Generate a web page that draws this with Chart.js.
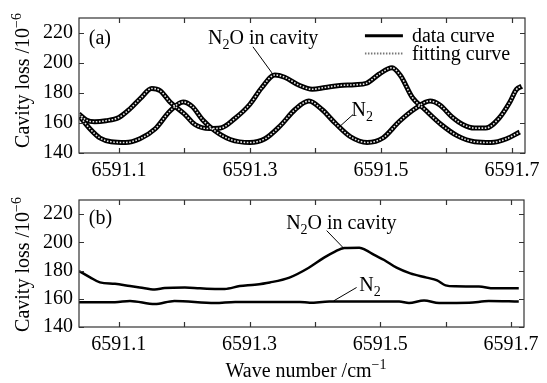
<!DOCTYPE html>
<html>
<head>
<meta charset="utf-8">
<script src="https://cdn.jsdelivr.net/npm/chart.js@4/dist/chart.umd.min.js"></script>
<style>
  body { margin: 0; background: #fff; }
  #wrap { position: relative; width: 547px; height: 383px; }
  canvas { position: absolute; left: 0; }
  #probe { position: absolute; left: -9999px; top: 0; font: 20px "Liberation Serif"; }
</style>
</head>
<body>
<div id="probe">Cavity loss 6591.1 N2O</div>
<div id="wrap">
  <canvas id="panelA" width="547" height="182" style="top:0"></canvas>
  <canvas id="panelB" width="547" height="201" style="top:182px"></canvas>
</div>
<script>
// Ticks
const X_TICKS = [6591.1, 6591.2, 6591.3, 6591.4, 6591.5, 6591.6, 6591.7];
const X_LABELS = ['6591.1', '6591.3', '6591.5', '6591.7'];
const Y_TICKS = [140, 160, 180, 200, 220];

// (a) spectra with mirror scan – N2O in cavity
const A_N2O_X = [6591.039, 6591.05, 6591.063, 6591.08, 6591.1, 6591.117, 6591.133, 6591.15, 6591.163, 6591.178,
  6591.2, 6591.216, 6591.238, 6591.255, 6591.277, 6591.3, 6591.318, 6591.338, 6591.353, 6591.376,
  6591.395, 6591.415, 6591.437, 6591.46, 6591.478, 6591.497, 6591.517, 6591.53, 6591.548, 6591.567,
  6591.592, 6591.617, 6591.643, 6591.668, 6591.692, 6591.712];
const A_N2O_Y = [166, 162, 160.8, 161.5, 163.7, 169.5, 176.5, 183, 181.5, 174,
  166, 159, 156.3, 156.6, 163, 172.5, 183.5, 192, 190.5, 185,
  182.5, 183.7, 185, 185.5, 186.5, 192.5, 196.8, 191.5, 177, 169,
  159, 151.4, 147.5, 147, 149.5, 154];

// (a) N2 only
const A_N2_X = [6591.039, 6591.056, 6591.071, 6591.088, 6591.11, 6591.132, 6591.155, 6591.178, 6591.198, 6591.212,
  6591.228, 6591.247, 6591.27, 6591.3, 6591.323, 6591.346, 6591.369, 6591.39, 6591.41, 6591.43,
  6591.453, 6591.479, 6591.503, 6591.528, 6591.552, 6591.575, 6591.59, 6591.608, 6591.625, 6591.643,
  6591.66, 6591.68, 6591.697, 6591.707, 6591.715];
const A_N2_Y = [165, 156, 150, 147.5, 147, 149.5, 156, 168, 174, 171,
  162, 154.6, 149, 147, 149.5, 158, 169, 174.6, 169, 160,
  151, 147, 150, 161, 169.5, 174.6, 172, 164.3, 159, 156.6,
  156.6, 163, 174, 182.4, 184.5];

// (b) corrected spectra
const B_N2O_X = [6591.039, 6591.056, 6591.071, 6591.094, 6591.117, 6591.132, 6591.155, 6591.17, 6591.201, 6591.224,
  6591.247, 6591.262, 6591.285, 6591.308, 6591.331, 6591.361, 6591.39, 6591.414, 6591.43, 6591.445,
  6591.468, 6591.478, 6591.49, 6591.506, 6591.525, 6591.546, 6591.571, 6591.587, 6591.6, 6591.615,
  6591.651, 6591.674, 6591.712];
const B_N2O_Y = [179.7, 175.2, 171.6, 170.6, 169, 168, 166.5, 167.6, 168, 167.4,
  167, 167, 169, 170, 171.6, 175, 181.8, 189.2, 193.3, 196,
  196.2, 194.5, 191.3, 187.5, 182, 178, 175, 173, 169.5, 168.8,
  168.7, 167.4, 167.4];

const B_N2_X = [6591.039, 6591.094, 6591.117, 6591.155, 6591.185, 6591.247, 6591.278, 6591.377, 6591.392, 6591.422,
  6591.529, 6591.544, 6591.567, 6591.59, 6591.636, 6591.666, 6591.712];
const B_N2_Y = [157.5, 157.5, 158.5, 156.3, 158.5, 157, 157.8, 157.8, 157.2, 158,
  158, 157, 158.8, 157, 157.2, 158.4, 158];

const FONT = '"Liberation Serif"';
const FS = 20;

function pts(xs, ys) {
  return xs.map((x, i) => ({ x: x, y: ys[i] }));
}

// text with sub / superscripts, parts = [[text, 'sub'|'sup'|undefined], ...]
function richWidth(ctx, parts) {
  let w = 0;
  parts.forEach(p => {
    ctx.font = (p[1] ? 14 : FS) + 'px ' + FONT;
    w += ctx.measureText(p[0]).width;
  });
  return w;
}

function drawRich(ctx, parts, x, y) {
  let cx = x;
  parts.forEach(p => {
    ctx.font = (p[1] ? 14 : FS) + 'px ' + FONT;
    const dy = p[1] === 'sub' ? 5 : (p[1] === 'sup' ? -8 : 0);
    ctx.fillText(p[0], cx, y + dy);
    cx += ctx.measureText(p[0]).width;
  });
}

const YTITLE = [['Cavity loss /10'], ['\u22126', 'sup']];
const XTITLE = [['Wave number /cm'], ['\u22121', 'sup']];

const framePlugin = {
  id: 'frame',
  afterDatasetsDraw(chart, args, opts) {
    const ctx = chart.ctx;
    const a = chart.chartArea;
    const x = chart.scales.x, y = chart.scales.y;
    ctx.save();
    ctx.strokeStyle = '#333';
    ctx.lineWidth = 1.2;
    ctx.strokeRect(a.left, a.top, a.right - a.left, a.bottom - a.top);

    // inward tick marks on all four sides
    ctx.beginPath();
    X_TICKS.forEach(v => {
      const px = Math.round(x.getPixelForValue(v)) + 0.5;
      ctx.moveTo(px, a.bottom); ctx.lineTo(px, a.bottom - 5);
      ctx.moveTo(px, a.top); ctx.lineTo(px, a.top + 5);
    });
    Y_TICKS.forEach(v => {
      const py = Math.round(y.getPixelForValue(v)) + 0.5;
      ctx.moveTo(a.left, py); ctx.lineTo(a.left + 5, py);
      ctx.moveTo(a.right, py); ctx.lineTo(a.right - 5, py);
    });
    ctx.stroke();

    // leader lines
    ctx.strokeStyle = '#000';
    ctx.lineWidth = 1;
    (opts.leaders || []).forEach(l => {
      ctx.beginPath();
      ctx.moveTo(x.getPixelForValue(l[0]), y.getPixelForValue(l[1]));
      ctx.lineTo(x.getPixelForValue(l[2]), y.getPixelForValue(l[3]));
      ctx.stroke();
    });

    // labels (y value = middle of capitals)
    ctx.fillStyle = '#000';
    ctx.textBaseline = 'alphabetic';
    ctx.textAlign = 'left';
    (opts.labels || []).forEach(t => {
      drawRich(ctx, t.parts, x.getPixelForValue(t.x), y.getPixelForValue(t.y) + 7);
    });

    // legend
    if (opts.legend) {
      const lg = opts.legend;
      const x0 = x.getPixelForValue(lg.x0), x1 = x.getPixelForValue(lg.x1);
      const xt = x.getPixelForValue(lg.xt);
      const y0 = y.getPixelForValue(lg.y0), y1 = y.getPixelForValue(lg.y1);
      ctx.strokeStyle = '#000';
      ctx.lineWidth = 3;
      ctx.beginPath(); ctx.moveTo(x0, y0); ctx.lineTo(x1, y0); ctx.stroke();
      ctx.strokeStyle = '#777';
      ctx.lineWidth = 2;
      ctx.setLineDash([1.5, 1.5]);
      ctx.beginPath(); ctx.moveTo(x0, y1); ctx.lineTo(x1, y1); ctx.stroke();
      ctx.setLineDash([]);
      drawRich(ctx, [['data curve']], xt, y0 + 6);
      drawRich(ctx, [['fitting curve']], xt, y1 + 6);
    }

    // y axis title (rotated)
    const cy = (a.top + a.bottom) / 2 + (opts.yTitleShift || 0);
    ctx.save();
    ctx.translate(22, cy);
    ctx.rotate(-Math.PI / 2);
    drawRich(ctx, YTITLE, -richWidth(ctx, YTITLE) / 2, 7);
    ctx.restore();

    // x axis title
    if (opts.xTitle) {
      const w = richWidth(ctx, XTITLE);
      drawRich(ctx, XTITLE, opts.xTitle.cx - w / 2, opts.xTitle.baseline);
    }
    ctx.restore();
  }
};

function makeChart(id, datasets, frame, pad, xHeight) {
  return new Chart(document.getElementById(id), {
    type: 'line',
    data: { datasets: datasets },
    options: {
      responsive: false,
      animation: false,
      devicePixelRatio: 1,
      layout: { padding: pad },
      elements: { point: { radius: 0 }, line: { cubicInterpolationMode: 'monotone' } },
      plugins: { legend: { display: false }, tooltip: { enabled: false }, frame: frame },
      scales: {
        x: {
          type: 'linear',
          min: 6591.039,
          max: 6591.72,
          grid: { display: false, drawTicks: false },
          border: { display: false },
          afterBuildTicks: s => { s.ticks = X_TICKS.map(v => ({ value: v })); },
          afterFit: s => { s.height = xHeight; },
          ticks: {
            autoSkip: false,
            maxRotation: 0,
            padding: 6,
            color: '#000',
            font: { family: FONT, size: FS },
            callback: v => X_LABELS.includes(v.toFixed(1)) ? v.toFixed(1) : ''
          }
        },
        y: {
          min: 140,
          max: 230,
          grid: { display: false, drawTicks: false },
          border: { display: false },
          afterBuildTicks: s => { s.ticks = Y_TICKS.map(v => ({ value: v })); },
          afterFit: s => { s.width = 79; },
          ticks: {
            padding: 6,
            color: '#000',
            font: { family: FONT, size: FS }
          }
        }
      }
    },
    plugins: [framePlugin]
  });
}

// lower order is drawn on top: fitting curves over the data curves
function dataLine(xs, ys) {
  return { data: pts(xs, ys), borderColor: '#000', borderWidth: 5, order: 2 };
}
function fitLine(xs, ys) {
  return { data: pts(xs, ys), borderColor: '#e6e6e6', borderWidth: 1.6, borderDash: [1.6, 1.6], order: 1 };
}

function drawAll() {
  makeChart('panelA', [
    dataLine(A_N2O_X, A_N2O_Y),
    dataLine(A_N2_X, A_N2_Y),
    fitLine(A_N2O_X, A_N2O_Y),
    fitLine(A_N2_X, A_N2_Y)
  ], {
    labels: [
      { x: 6591.054, y: 217.4, parts: [['(a)']] },
      { x: 6591.236, y: 217.5, parts: [['N'], ['2', 'sub'], ['O in cavity']] },
      { x: 6591.455, y: 169.2, parts: [['N'], ['2', 'sub']] }
    ],
    leaders: [
      [6591.3046, 210.8, 6591.3336, 193.4],
      [6591.4573, 165.6, 6591.4344, 156.6]
    ],
    legend: { x0: 6591.4756, x1: 6591.5336, xt: 6591.5473, y0: 218.1, y1: 206.3 },
    yTitleShift: -5
  }, { top: 14, right: 22, left: 0, bottom: 0 }, 29);

  makeChart('panelB', [
    { data: pts(B_N2O_X, B_N2O_Y), borderColor: '#000', borderWidth: 2.5 },
    { data: pts(B_N2_X, B_N2_Y), borderColor: '#000', borderWidth: 2.5 }
  ], {
    labels: [
      { x: 6591.054, y: 217.6, parts: [['(b)']] },
      { x: 6591.356, y: 214.7, parts: [['N'], ['2', 'sub'], ['O in cavity']] },
      { x: 6591.468, y: 170.8, parts: [['N'], ['2', 'sub']] }
    ],
    leaders: [
      [6591.418, 208.3, 6591.4435, 196.1],
      [6591.4638, 168.0, 6591.4287, 158.5]
    ],
    xTitle: { cx: 306, baseline: 195 },
    yTitleShift: 1
  }, { top: 5, right: 23, left: 0, bottom: 0 }, 56);
}

// make sure the serif face is loaded before the canvases use it
document.fonts.load('20px "Liberation Serif"').then(drawAll, drawAll);
</script>
</body>
</html>
